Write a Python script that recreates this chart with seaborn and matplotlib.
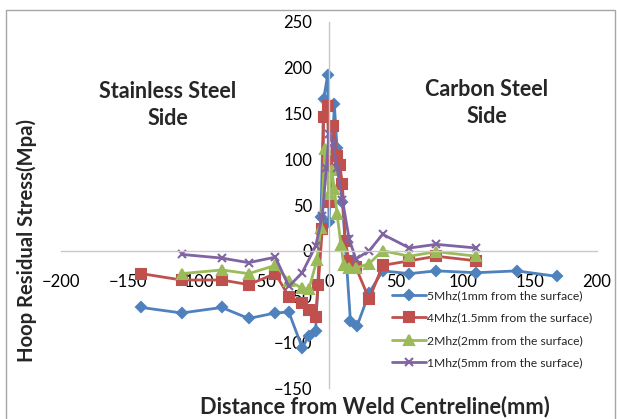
import matplotlib
matplotlib.use('Agg')
import pandas as pd
import seaborn as sns
import matplotlib.pyplot as plt
from matplotlib.patches import Rectangle

# Data (distance in mm, hoop stress in MPa)
x_5mhz = [-140, -110, -80, -60, -40, -30, -20, -15, -10, -6, -4, -1, 0, 4, 6, 10, 16, 21, 30, 40, 60, 80, 110, 140, 170]
y_5mhz = [-62, -68, -62, -74, -68, -67, -106, -93, -88, 37, 166, 192, 31, 160, 112, 53, -77, -82, -46, -22, -25, -22, -24, -22, -28]

x_4mhz = [-140, -110, -80, -60, -40, -30, -20, -15, -10, -8, -5, -4, -1, 1, 3, 6, 8, 10, 12, 15, 20, 30, 40, 60, 80, 110]
y_4mhz = [-25, -32, -32, -37, -25, -50, -57, -65, -72, -37, 24, 146, 158, 53, 136, 104, 94, 73, 11, -11, -18, -53, -16, -11, -6, -11]

x_2mhz = [-110, -80, -60, -40, -30, -20, -15, -9, -6, -3, 0, 2, 4, 6, 9, 11, 15, 20, 30, 40, 60, 80, 110]
y_2mhz = [-25, -21, -25, -16, -33, -41, -42, -10, 25, 111, 62, 88, 68, 40, 6, -16, -19, -19, -14, 0, -6, -1, -6]

x_1mhz = [-110, -80, -60, -40, -30, -20, -10, -5, -2, 0, 3, 6, 10, 15, 20, 30, 40, 60, 80, 110]
y_1mhz = [-4, -8, -13, -7, -39, -24, 5, 38, 90, 128, 118, 90, 56, 13, -9, 0, 18, 3, 7, 3]

labels = ['5Mhz(1mm from the surface)', '4Mhz(1.5mm from the surface)',
          '2Mhz(2mm from the surface)', '1Mhz(5mm from the surface)']

series = [
    (x_5mhz, y_5mhz, labels[0], '#4F81BD', 'D', 5),
    (x_4mhz, y_4mhz, labels[1], '#C0504D', 's', 6.5),
    (x_2mhz, y_2mhz, labels[2], '#9BBB59', '^', 6.5),
    (x_1mhz, y_1mhz, labels[3], '#8064A2', 'x', 6),
]

sns.set_style('white')
plt.rcParams['font.family'] = ['Lato', 'DejaVu Sans']

fig = plt.figure(figsize=(6.17, 4.19), dpi=100)
ax = fig.add_axes([61 / 617, 1 - 388 / 419, 536 / 617, 366 / 419])

for xs, ys, lab, col, mk, ms in series:
    df = pd.DataFrame({'x': xs, 'y': ys})
    sns.lineplot(data=df, x='x', y='y', ax=ax, color=col, marker=mk, markersize=ms,
                 markeredgecolor=col, markeredgewidth=1.5, linewidth=2,
                 sort=False, estimator=None, label=lab)

ax.set_xlim(-200, 200)
ax.set_ylim(-150, 250)
ax.set_xticks(range(-200, 201, 50))
ax.set_yticks(range(-150, 251, 50))

# axes cross at the origin like the Excel chart
ax.spines['left'].set_position(('data', 0))
ax.spines['bottom'].set_position(('data', 0))
ax.spines['top'].set_visible(False)
ax.spines['right'].set_visible(False)
for s in ['left', 'bottom']:
    ax.spines[s].set_color('#c8c8c8')
    ax.spines[s].set_linewidth(1)
ax.tick_params(axis='x', length=0, pad=17, labelsize=12, labelcolor='black')
ax.tick_params(axis='y', length=0, pad=12, labelsize=12, labelcolor='black')
ax.set_xlabel('')
ax.set_ylabel('')

fig.text(375 / 617, 1 - 407 / 419, 'Distance from Weld Centreline(mm)', ha='center', va='center',
         fontsize=15.7, fontweight='bold')
fig.text(27 / 617, 1 - 240 / 419, 'Hoop Residual Stress(Mpa)', ha='center', va='center',
         rotation=90, fontsize=14.6, fontweight='bold')

fig.text(168 / 617, 1 - 105 / 419, 'Stainless Steel\nSide', ha='center', va='center',
         fontsize=15.5, fontweight='bold', linespacing=1.3)
fig.text(487 / 617, 1 - 103 / 419, 'Carbon Steel\nSide', ha='center', va='center',
         fontsize=15.5, fontweight='bold', linespacing=1.3)

ax.legend(loc='upper left', bbox_to_anchor=(392 / 617, 1 - 290 / 419), bbox_transform=fig.transFigure,
          frameon=False, fontsize=8.7, handlelength=2.8, handletextpad=0.1, labelspacing=0.95,
          borderpad=0, borderaxespad=0)

# chart area border
fig.patches.append(Rectangle((6 / 617, -0.02), 609 / 617, 1 - 10 / 419 + 0.02, transform=fig.transFigure,
                             fill=False, edgecolor='#a6a6a6', linewidth=1))

fig.savefig('out.png', dpi=100)
